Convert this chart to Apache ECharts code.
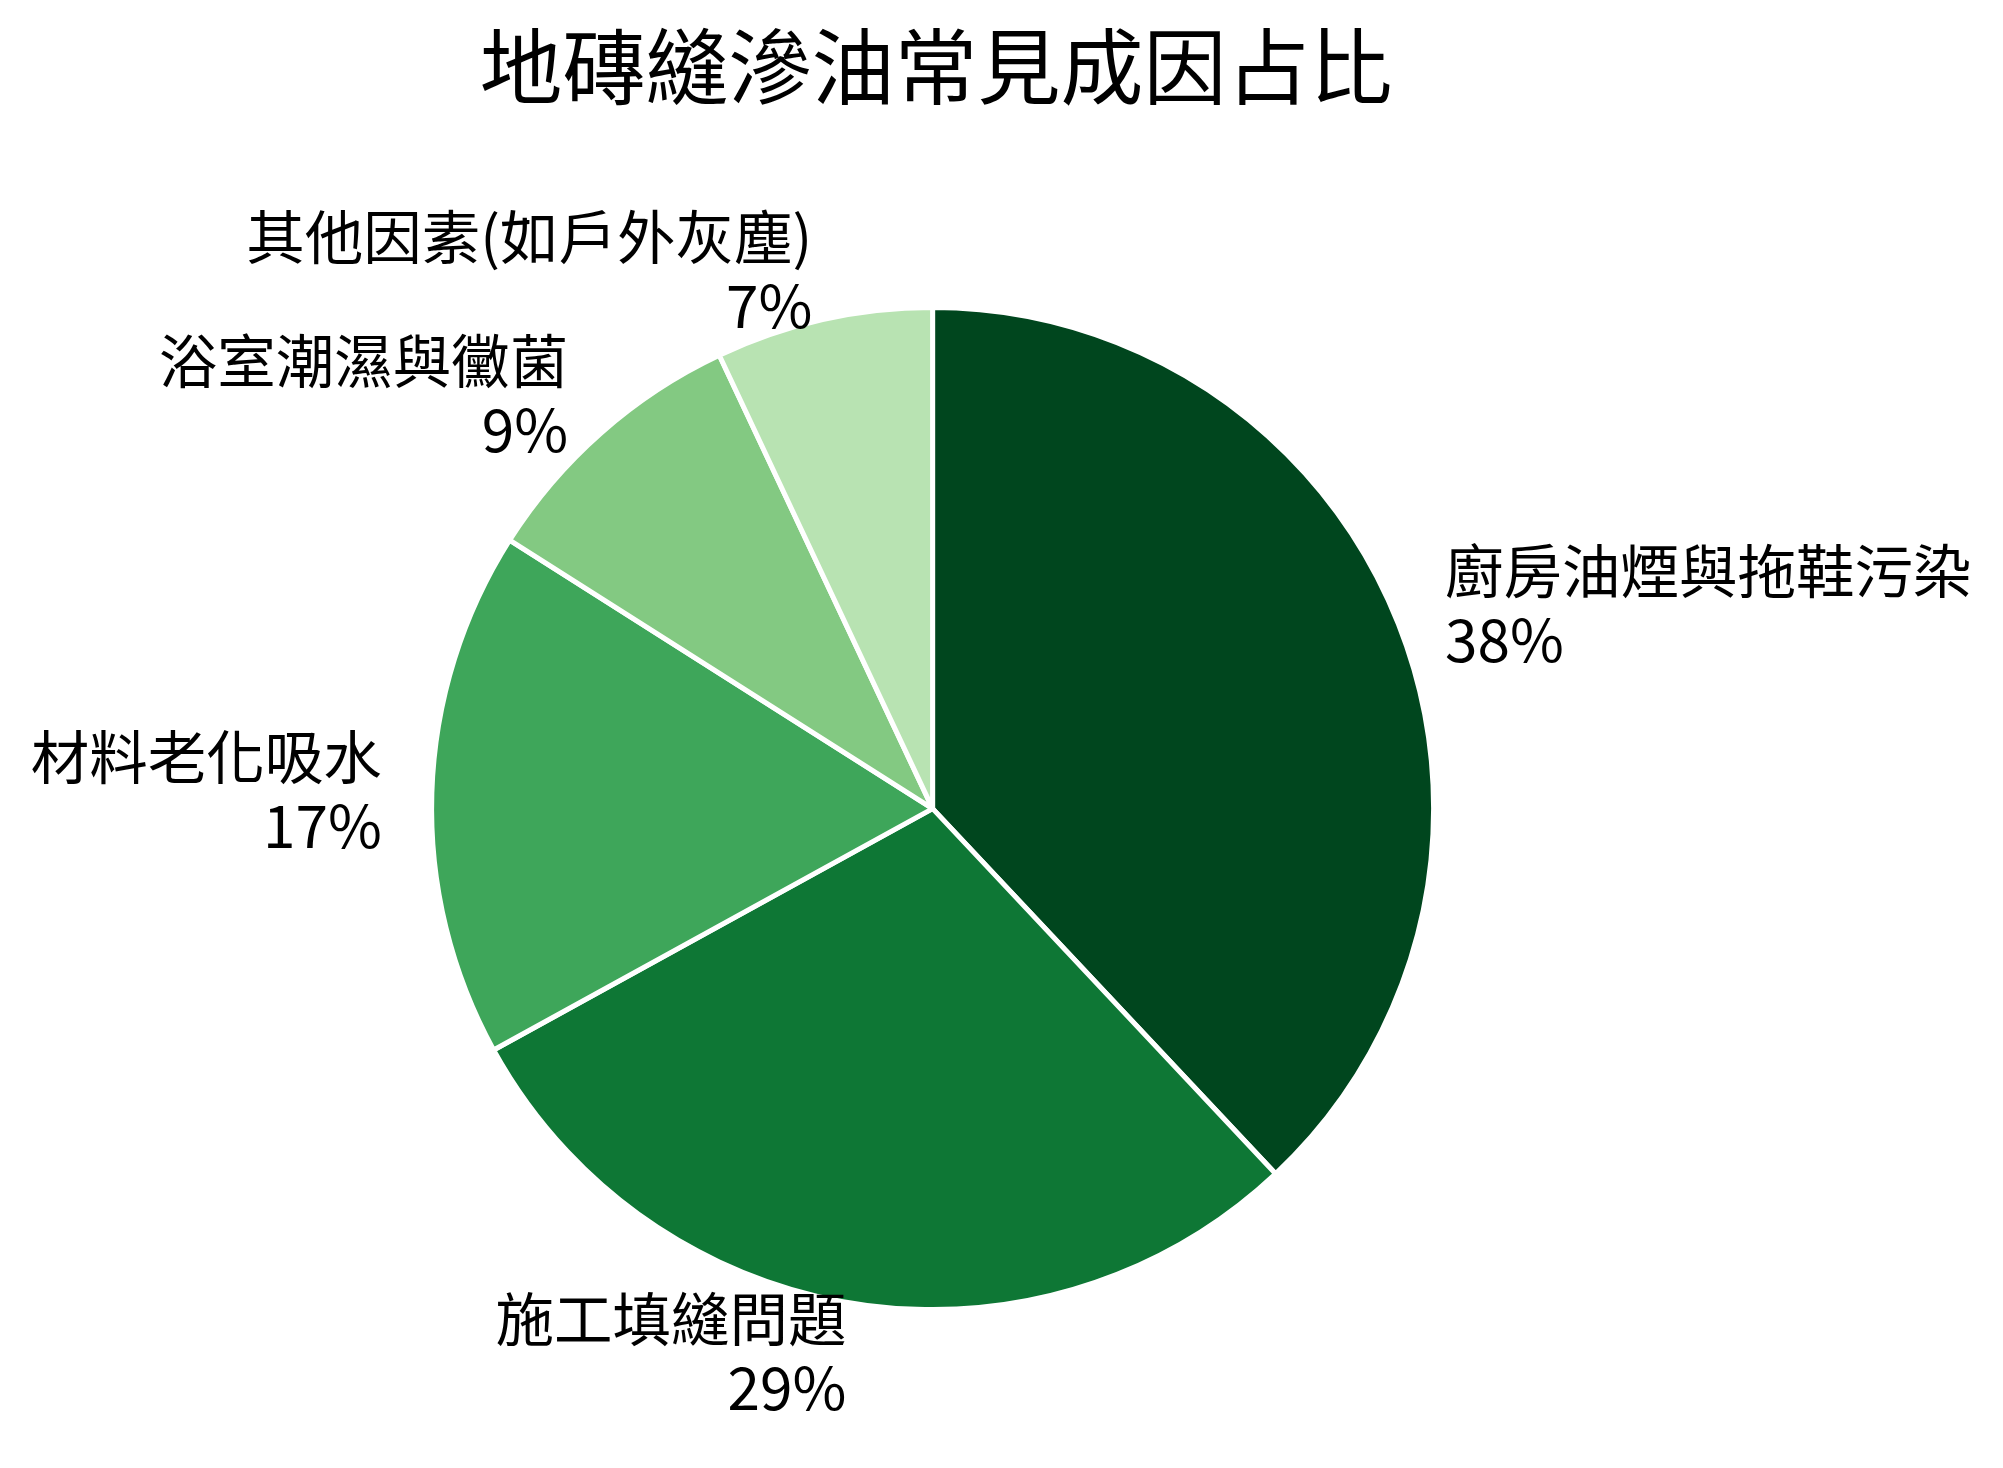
<!DOCTYPE html>
<html>
<head>
<meta charset="utf-8">
<script src="https://cdn.jsdelivr.net/npm/echarts@6/dist/echarts.min.js"></script>
<style>
html,body{margin:0;padding:0;background:#fff;}
#chart{width:2003px;height:1468px;}
</style>
</head>
<body>
<div id="chart"></div>
<script>
const titleText = '地磚縫滲油常見成因占比';
const categories = ['廚房油煙與拖鞋污染', '施工填縫問題', '材料老化吸水', '浴室潮濕與黴菌', '其他因素(如戶外灰塵)'];
const values = [38, 29, 17, 9, 7];
const colors = ['#00461e', '#0e7735', '#3ea65a', '#83c982', '#b8e3b2'];

const R = 501;
const font = '"Noto Sans CJK TC", "Noto Sans CJK SC", "Noto Sans", sans-serif';

const chart = echarts.init(document.getElementById('chart'), null, {renderer: 'canvas'});
chart.setOption({
  backgroundColor: '#ffffff',
  animation: false,
  title: {
    text: titleText,
    left: 931,
    textAlign: 'center',
    top: 15,
    textStyle: {fontFamily: font, fontSize: 83, fontWeight: 'normal', color: '#000', lineHeight: 92}
  },
  series: [{
    type: 'pie',
    center: [932.6, 808.6],
    radius: R,
    startAngle: 90,
    clockwise: true,
    avoidLabelOverlap: false,
    labelLayout: {hideOverlap: false},
    data: categories.map((c, i) => ({name: c, value: values[i], itemStyle: {color: colors[i]}})),
    itemStyle: {borderColor: '#ffffff', borderWidth: 5},
    label: {
      show: true,
      position: 'outside',
      formatter: p => p.name + '\n' + p.value + '%',
      fontFamily: font,
      fontSize: 58.5,
      lineHeight: 69,
      padding: [0, 0, 14, 0],
      color: '#000',
      distanceToLabelLine: 0
    },
    labelLine: {show: false, length: 0.1 * R, length2: 0},
    emphasis: {disabled: true}
  }]
});
</script>
</body>
</html>
